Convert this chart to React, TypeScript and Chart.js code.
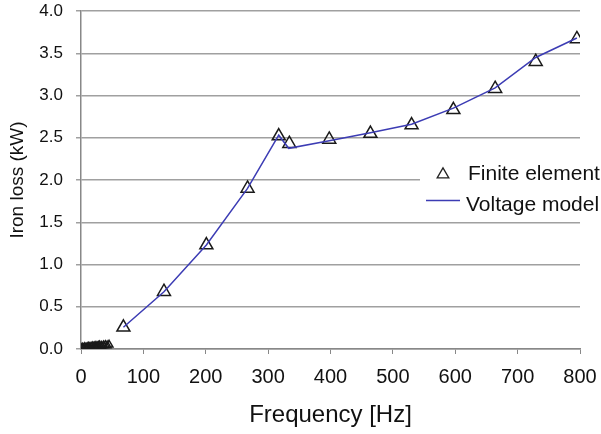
import React, { useEffect, useRef } from "react";
import { Chart, registerables } from "chart.js";

Chart.register(...registerables);

const feFreq = [0, 2, 4, 6, 8, 10, 12, 14, 16, 18, 20, 22, 24, 26, 28, 30, 33, 36, 39, 42, 45, 68, 133, 201, 267, 317, 334, 398, 464, 530, 597, 664, 729, 795];
const feLoss = [0.01, 0.015, 0.01, 0.02, 0.015, 0.02, 0.025, 0.02, 0.025, 0.03, 0.025, 0.03, 0.035, 0.03, 0.035, 0.04, 0.035, 0.04, 0.045, 0.04, 0.05, 0.257, 0.678, 1.23, 1.9, 2.52, 2.43, 2.48, 2.55, 2.65, 2.83, 3.08, 3.4, 3.67];
const vmFreq = [68, 133, 201, 267, 317, 333, 398, 464, 530, 597, 664, 729, 795];
const vmLoss = [0.257, 0.678, 1.23, 1.9, 2.53, 2.375, 2.465, 2.56, 2.66, 2.85, 3.09, 3.45, 3.68];
const yTicks = [0, 0.5, 1, 1.5, 2, 2.5, 3, 3.5, 4];
const xTicks = [0, 100, 200, 300, 400, 500, 600, 700, 800];
const legendLabels = ["Finite element", "Voltage model"];

const FONT = "'Liberation Sans', Arial, sans-serif";
const LINE_COLOR = "#3c3cb4";

const legendPlugin = {
  id: "customLegend",
  afterDraw(chart: any) {
    const ctx = chart.ctx;
    ctx.save();
    ctx.fillStyle = "#ffffff";
    ctx.fillRect(420, 152, 181, 64);
    const tx = 443, ty = 174.5, r = 6.7;
    ctx.beginPath();
    ctx.moveTo(tx, ty - r);
    ctx.lineTo(tx + r * 0.87, ty + r * 0.5);
    ctx.lineTo(tx - r * 0.87, ty + r * 0.5);
    ctx.closePath();
    ctx.strokeStyle = "#222";
    ctx.lineWidth = 1.3;
    ctx.stroke();
    ctx.beginPath();
    ctx.moveTo(426, 200.5);
    ctx.lineTo(460, 200.5);
    ctx.strokeStyle = LINE_COLOR;
    ctx.lineWidth = 1.5;
    ctx.stroke();
    ctx.fillStyle = "#111";
    ctx.font = "21px " + FONT;
    ctx.textBaseline = "alphabetic";
    ctx.textAlign = "left";
    ctx.fillText(legendLabels[0], 468, 180);
    ctx.fillText(legendLabels[1], 466, 211);
    ctx.restore();
  },
};

export default function App() {
  const ref = useRef<HTMLCanvasElement>(null);
  useEffect(() => {
    document.body.style.margin = "0";
    const chart = new Chart(ref.current!, {
      type: "scatter",
      data: {
        datasets: [
          {
            label: legendLabels[1],
            data: vmFreq.map((x, i) => ({ x, y: vmLoss[i] })),
            showLine: true,
            borderColor: LINE_COLOR,
            borderWidth: 1.5,
            pointRadius: 0,
            fill: false,
          },
          {
            label: legendLabels[0],
            data: feFreq.map((x, i) => ({ x, y: feLoss[i] })),
            showLine: false,
            pointStyle: "triangle",
            pointRadius: (c: any) => (feFreq[c.dataIndex] < 50 ? 4.5 : 7.5),
            pointBorderColor: "#1a1a1a",
            pointBackgroundColor: "rgba(0,0,0,0)",
            pointBorderWidth: 1.5,
          },
        ],
      },
      plugins: [legendPlugin],
      options: {
        animation: false,
        responsive: false,
        layout: { padding: { left: 6, right: 21, top: 11, bottom: 4 } },
        plugins: { legend: { display: false }, tooltip: { enabled: false } },
        scales: {
          x: {
            type: "linear",
            min: 0,
            max: 800,
            afterBuildTicks: (s: any) => {
              s.ticks = xTicks.map((v) => ({ value: v }));
            },
            afterFit: (s: any) => {
              s.height = 434 - 349 - 4;
              s.paddingLeft = 0;
              s.paddingRight = 0;
            },
            grid: { display: true, drawOnChartArea: false, drawTicks: true, tickLength: 5, color: "#888" },
            border: { display: true, color: "#888", width: 1.5 },
            ticks: { color: "#111", font: { family: FONT, size: 20 }, padding: 11 },
            title: { display: true, text: "Frequency [Hz]", color: "#111", font: { family: FONT, size: 24 }, padding: { top: 4, bottom: 0 } },
          },
          y: {
            type: "linear",
            min: 0,
            max: 4,
            afterBuildTicks: (s: any) => {
              s.ticks = yTicks.map((v) => ({ value: v }));
            },
            afterFit: (s: any) => {
              s.width = 81 - 6;
              s.paddingTop = 0;
              s.paddingBottom = 0;
            },
            grid: { color: "#a0a0a0", lineWidth: 1.5, drawTicks: true, tickLength: 5 },
            border: { display: true, color: "#888", width: 1.5 },
            ticks: { color: "#111", font: { family: FONT, size: 17 }, padding: 13, callback: (v: any) => Number(v).toFixed(1) },
            title: { display: true, text: "Iron loss (kW)", color: "#111", font: { family: FONT, size: 19 }, padding: { top: 0, bottom: 6 } },
          },
        },
      },
    });
    return () => chart.destroy();
  }, []);
  return (
    <div style={{ width: 601, height: 434 }}>
      <canvas ref={ref} width={601} height={434} style={{ display: "block" }} />
    </div>
  );
}
